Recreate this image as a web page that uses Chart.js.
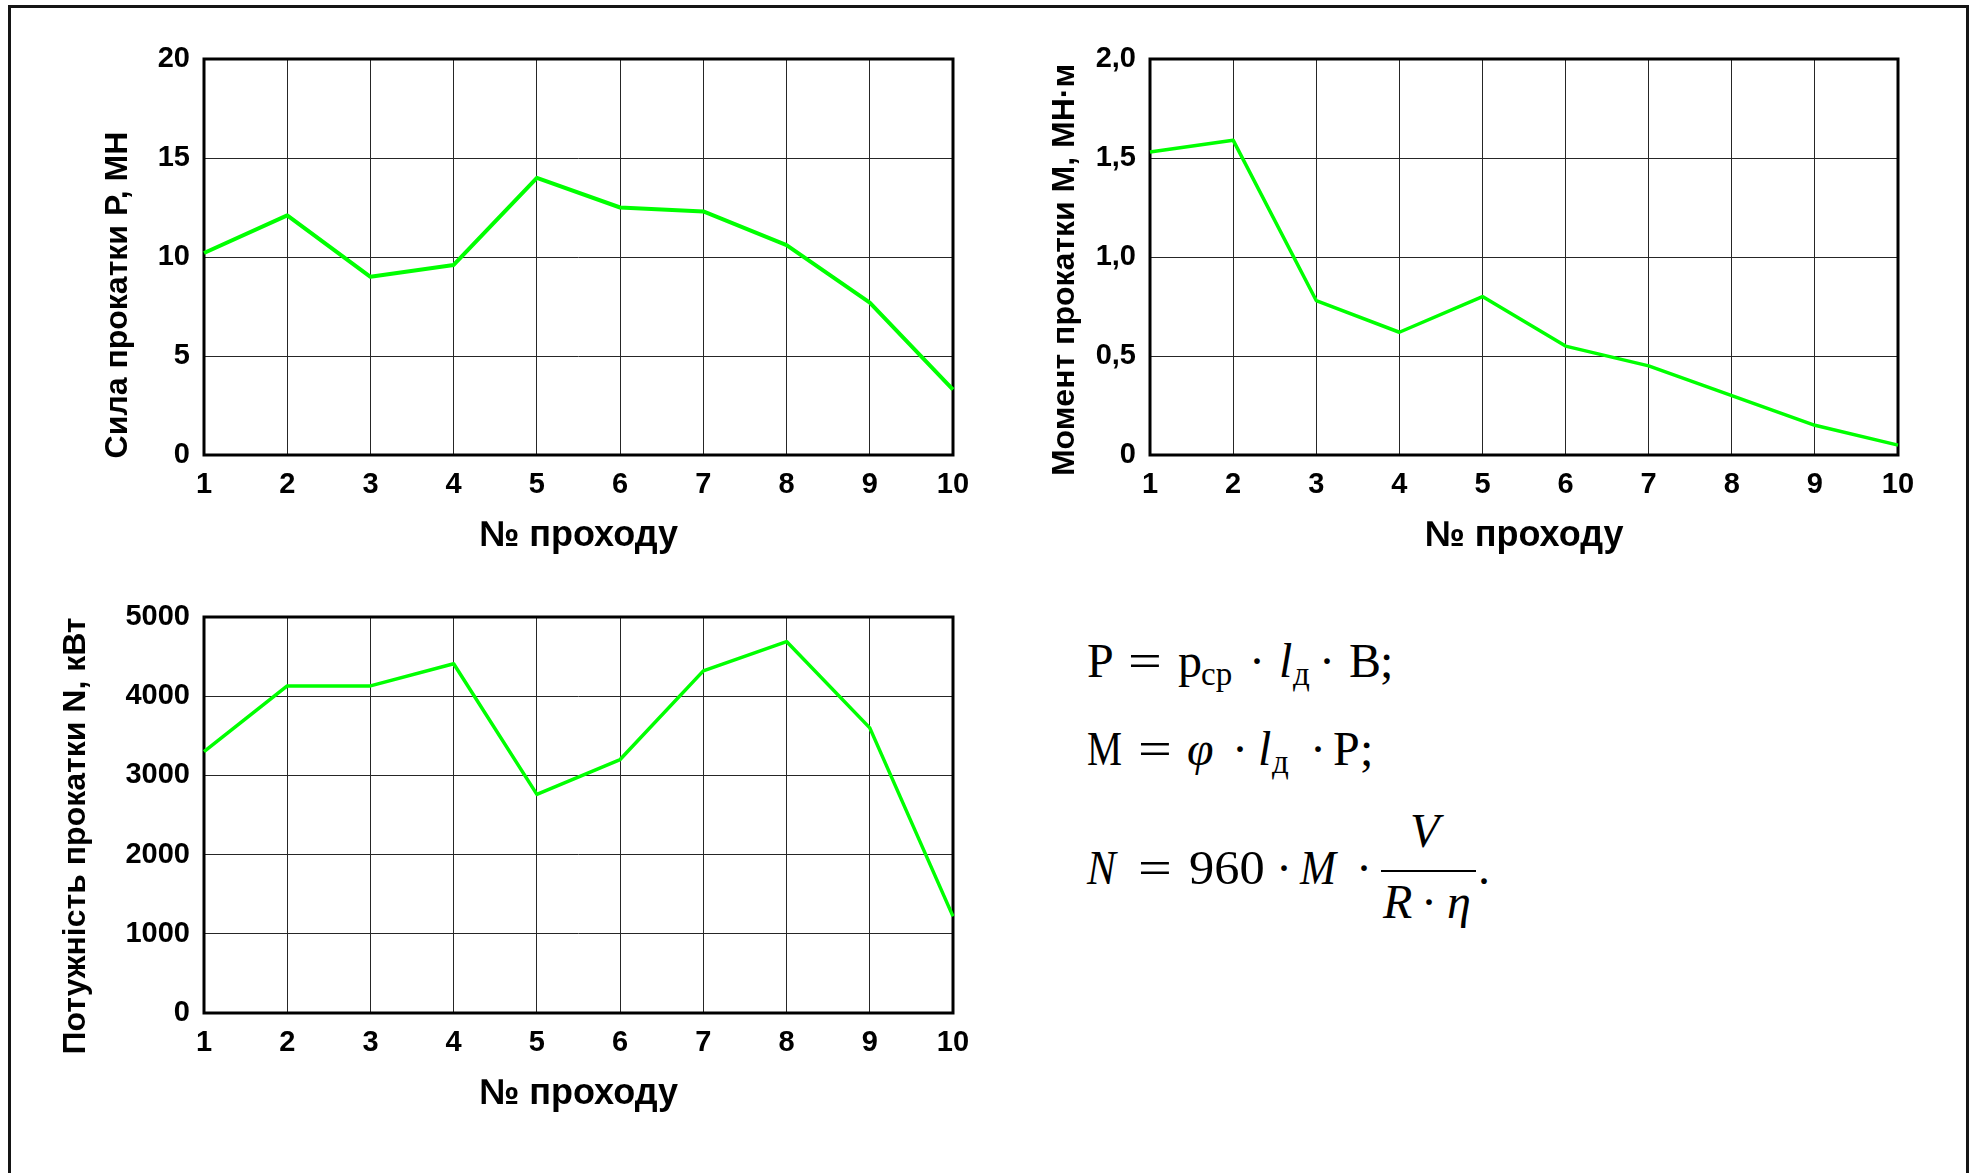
<!DOCTYPE html>
<html>
<head>
<meta charset="utf-8">
<script src="https://cdn.jsdelivr.net/npm/chart.js@4"></script>
<style>
  html, body { margin: 0; padding: 0; background: #fff; }
  #page { position: relative; width: 1971px; height: 1173px; overflow: hidden; background: #fff; }
  #frame { position: absolute; left: 8px; top: 5px; width: 1961px; height: 1200px; border: 3px solid #151515; box-sizing: border-box; }
  .cv { position: absolute; }
  .tok { position: absolute; font-family: "Liberation Serif", "Times New Roman", serif; line-height: 1; white-space: nowrap; color: #000; transform-origin: 0 50%; }
  .bar { position: absolute; height: 2px; background: #000; }
</style>
</head>
<body>
<div id="page">
  <div id="frame"></div>
  <canvas class="cv" id="chartP" width="985" height="580" style="left:0;top:0"></canvas>
  <canvas class="cv" id="chartM" width="986" height="580" style="left:985px;top:0"></canvas>
  <canvas class="cv" id="chartN" width="985" height="580" style="left:0;top:558px"></canvas>
  <div id="formulas"></div>
</div>
<script>
// Pass numbers along the x axis
const passes = ['1', '2', '3', '4', '5', '6', '7', '8', '9', '10'];
// Rolling force P, MN
const forceP = [10.2, 12.1, 9.0, 9.6, 14.0, 12.5, 12.3, 10.6, 7.7, 3.3];
// Rolling torque M, MN·m
const torqueM = [1.53, 1.59, 0.78, 0.62, 0.80, 0.55, 0.45, 0.30, 0.15, 0.05];
// Rolling power N, kW
const powerN = [3300, 4130, 4130, 4410, 2760, 3200, 4320, 4690, 3600, 1220];

const xTitle = '№ проходу';
const yTitleP = 'Сила прокатки Р, МН';
const yTitleM = 'Момент прокатки М, МН·м';
const yTitleN = 'Потужність прокатки N, кВт';

const SANS = '"Liberation Sans", Arial, sans-serif';
const tickFont = { family: SANS, size: 29, weight: 'bold' };
const titleFont = { family: SANS, size: 36, weight: 'bold' };

// Thick black box around the plotting area
const framePlugin = {
  id: 'plotFrame',
  beforeDatasetsDraw(chart) {
    const { ctx, chartArea: a } = chart;
    ctx.save();
    ctx.strokeStyle = '#000';
    ctx.lineWidth = 3;
    ctx.strokeRect(a.left, a.top, a.right - a.left, a.bottom - a.top);
    ctx.restore();
  }
};

// Vertical axis caption, read bottom-to-top
const captionPlugin = {
  id: 'sideCaption',
  afterDraw(chart, args, opts) {
    if (!opts || !opts.text) return;
    const { ctx } = chart;
    ctx.save();
    ctx.translate(opts.x, opts.y);
    ctx.rotate(-Math.PI / 2);
    ctx.font = `bold ${opts.size}px ${SANS}`;
    ctx.fillStyle = '#000';
    ctx.textAlign = 'center';
    ctx.textBaseline = 'middle';
    ctx.fillText(opts.text, 0, 0);
    ctx.restore();
  }
};

function buildChart(id, values, yMax, yStep, fmt, cfg) {
  return new Chart(document.getElementById(id), {
    type: 'line',
    data: {
      labels: passes,
      datasets: [{
        data: values,
        borderColor: '#00ff00',
        borderWidth: cfg.lineW,
        pointRadius: 0,
        tension: 0,
        fill: false,
        borderJoinStyle: 'round'
      }]
    },
    options: {
      responsive: false,
      animation: false,
      events: [],
      layout: { padding: { left: 0, top: 59, right: cfg.right, bottom: 0 } },
      plugins: {
        legend: { display: false },
        tooltip: { enabled: false },
        sideCaption: { text: cfg.caption, x: cfg.capX, y: cfg.capY, size: 32 }
      },
      scales: {
        x: {
          grid: { color: '#262626', lineWidth: 1, drawTicks: false },
          border: { display: false },
          ticks: { font: tickFont, color: '#000', padding: 13, maxRotation: 0, autoSkip: false },
          title: { display: true, text: xTitle, font: titleFont, color: '#000', padding: { top: 0, bottom: 22 } },
          afterFit(s) { s.height = 125; }
        },
        y: {
          min: 0,
          max: yMax,
          grid: { color: '#262626', lineWidth: 1, drawTicks: false },
          border: { display: false },
          ticks: { stepSize: yStep, callback: fmt, font: tickFont, color: '#000', padding: 14 },
          afterFit(s) { s.width = cfg.axisW; }
        }
      }
    },
    plugins: [framePlugin, captionPlugin]
  });
}

const plainFmt = v => String(v);
const commaFmt = v => (v === 0 ? '0' : v.toFixed(1).replace('.', ','));

buildChart('chartP', forceP, 20, 5, plainFmt, { right: 32, axisW: 204, caption: yTitleP, capX: 118, capY: 295, lineW: 4 });
buildChart('chartM', torqueM, 2, 0.5, commaFmt, { right: 73, axisW: 165, caption: yTitleM, capX: 80, capY: 270, lineW: 3.5 });
buildChart('chartN', powerN, 5000, 1000, plainFmt, { right: 32, axisW: 204, caption: yTitleN, capX: 76, capY: 278, lineW: 3.5 });

// Formula block: [left, baseline, text, size, italic, horizontal scale]
const formulaTokens = [
  [1087, 677, 'Р', 48, false, 1], [1128, 677, '=', 48, false, 1.25], [1178, 677, 'р', 48, false, 1],
  [1201, 686, 'ср', 33, false, 1], [1249, 677, '·', 48, false, 1], [1279, 677, 'l', 48, true, 1],
  [1293, 686, 'д', 33, false, 1], [1319, 677, '·', 48, false, 1], [1349, 677, 'В', 48, false, 1],
  [1380, 677, ';', 48, false, 1],

  [1087, 765, 'М', 48, false, 0.82], [1138, 765, '=', 48, false, 1.25], [1187, 765, 'φ', 48, true, 1],
  [1232, 765, '·', 48, false, 1], [1258, 765, 'l', 48, true, 1], [1272, 774, 'д', 33, false, 1],
  [1310, 765, '·', 48, false, 1], [1333, 765, 'Р', 48, false, 1], [1360, 765, ';', 48, false, 1],

  [1087, 884, 'N', 48, true, 0.9], [1138, 884, '=', 48, false, 1.25], [1189, 884, '960', 48, false, 1.05],
  [1276, 884, '·', 48, false, 1], [1300, 884, 'M', 48, true, 0.9], [1356, 884, '·', 48, false, 1],
  [1410, 847, 'V', 48, true, 1], [1383, 918, 'R', 48, true, 1], [1421, 918, '·', 48, false, 1],
  [1447, 918, 'η', 48, true, 1], [1478, 884, '.', 48, false, 1]
];
const box = document.getElementById('formulas');
for (const [x, base, txt, size, it, sx] of formulaTokens) {
  const s = document.createElement('span');
  s.className = 'tok';
  s.textContent = txt;
  s.style.left = x + 'px';
  s.style.fontSize = size + 'px';
  s.style.top = (base - 0.8375 * size) + 'px';
  if (it) s.style.fontStyle = 'italic';
  if (sx !== 1) s.style.transform = `scaleX(${sx})`;
  box.appendChild(s);
}
const bar = document.createElement('div');
bar.className = 'bar';
bar.style.left = '1381px';
bar.style.top = '870px';
bar.style.width = '95px';
box.appendChild(bar);
</script>
</body>
</html>
